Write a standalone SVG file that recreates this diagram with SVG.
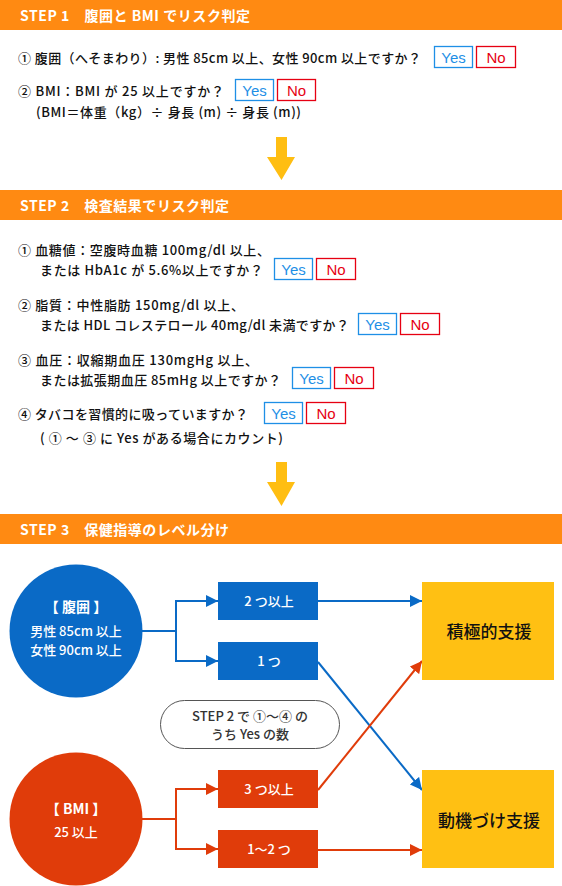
<svg xmlns="http://www.w3.org/2000/svg" width="562" height="886" viewBox="0 0 562 886">
<style>
text{font-family:"Noto Sans CJK JP","Noto Sans",sans-serif;}
.bar{fill:#FF8A12;}
.ht{fill:#fff;font-size:14px;font-weight:bold;}
.bt{fill:#111;font-size:13px;font-weight:500;}
.yb{fill:#fff;stroke:#1E8FE6;stroke-width:1.3;}
.nb{fill:#fff;stroke:#E60012;stroke-width:1.3;}
.yt{fill:#1E8FE6;font-size:15px;text-anchor:middle;font-family:"Liberation Sans",Arial,sans-serif;}
.nt{fill:#E60012;font-size:15px;text-anchor:middle;font-family:"Liberation Sans",Arial,sans-serif;}
.arr{fill:#FFBE12;}
.blue{fill:#0A6AC6;}
.red{fill:#E03C0A;}
.wt{fill:#fff;font-size:13px;font-weight:500;text-anchor:middle;}
.wtb{fill:#fff;font-size:14px;font-weight:bold;text-anchor:middle;}
.sup{fill:#FFC013;}
.st{fill:#111;font-size:17px;font-weight:500;text-anchor:middle;}
.cb{stroke:#0A6AC6;stroke-width:2;fill:none;}
.cr{stroke:#E03C0A;stroke-width:2;fill:none;}
</style>
<defs>
<marker id="ab" viewBox="0 0 12 12" refX="12" refY="6" markerWidth="12" markerHeight="12" markerUnits="userSpaceOnUse" orient="auto"><path d="M0,0 L12,6 L0,12 Z" fill="#0A6AC6"/></marker>
<marker id="ar" viewBox="0 0 12 12" refX="12" refY="6" markerWidth="12" markerHeight="12" markerUnits="userSpaceOnUse" orient="auto"><path d="M0,0 L12,6 L0,12 Z" fill="#E03C0A"/></marker>
</defs>

<g id="step1">
<rect class="bar" x="0" y="0" width="562" height="30"/>
<text class="ht" x="20" y="21" textLength="230" lengthAdjust="spacing">STEP 1　腹囲と BMI でリスク判定</text>
<text class="bt" x="18" y="63" textLength="403" lengthAdjust="spacing">① 腹囲（へそまわり）: 男性 85cm 以上、女性 90cm 以上ですか？</text>
<rect class="yb" x="434.5" y="46.5" width="38" height="21"/><text class="yt" x="453.5" y="63">Yes</text>
<rect class="nb" x="476.5" y="46.5" width="39" height="21"/><text class="nt" x="496" y="63">No</text>
<text class="bt" x="18" y="96" textLength="206" lengthAdjust="spacing">② BMI：BMI が 25 以上ですか？</text>
<rect class="yb" x="235.5" y="79.5" width="38" height="21"/><text class="yt" x="254.5" y="96">Yes</text>
<rect class="nb" x="277.5" y="79.5" width="38" height="21"/><text class="nt" x="296.5" y="96">No</text>
<text class="bt" x="36" y="117" textLength="265" lengthAdjust="spacing">(BMI＝体重（kg）÷ 身長 (m) ÷ 身長 (m))</text>
</g>

<g id="arrow1"><path class="arr" d="M276,137 H287 V157 H295 L281.5,180 L267,157 H276 Z"/></g>

<g id="step2">
<rect class="bar" x="0" y="190" width="562" height="30"/>
<text class="ht" x="20" y="211" textLength="209" lengthAdjust="spacing">STEP 2　検査結果でリスク判定</text>
<text class="bt" x="18" y="255" textLength="252" lengthAdjust="spacing">① 血糖値：空腹時血糖 100mg/dl 以上、</text>
<text class="bt" x="40" y="275" textLength="223" lengthAdjust="spacing">または HbA1c が 5.6%以上ですか？</text>
<rect class="yb" x="274.5" y="258.5" width="38" height="21"/><text class="yt" x="293.5" y="275">Yes</text>
<rect class="nb" x="316.5" y="258.5" width="39" height="21"/><text class="nt" x="336" y="275">No</text>
<text class="bt" x="18" y="310" textLength="226" lengthAdjust="spacing">② 脂質：中性脂肪 150mg/dl 以上、</text>
<text class="bt" x="40" y="330" textLength="309" lengthAdjust="spacing">または HDL コレステロール 40mg/dl 未満ですか？</text>
<rect class="yb" x="358.5" y="313.5" width="38" height="21"/><text class="yt" x="377.5" y="330">Yes</text>
<rect class="nb" x="400.5" y="313.5" width="39" height="21"/><text class="nt" x="420" y="330">No</text>
<text class="bt" x="18" y="365" textLength="240" lengthAdjust="spacing">③ 血圧：収縮期血圧 130mgHg 以上、</text>
<text class="bt" x="40" y="385" textLength="241" lengthAdjust="spacing">または拡張期血圧 85mHg 以上ですか？</text>
<rect class="yb" x="292.5" y="367.5" width="38" height="21"/><text class="yt" x="311.5" y="384">Yes</text>
<rect class="nb" x="334.5" y="367.5" width="39" height="21"/><text class="nt" x="354" y="384">No</text>
<text class="bt" x="18" y="419" textLength="230" lengthAdjust="spacing">④ タバコを習慣的に吸っていますか？</text>
<rect class="yb" x="264.5" y="402.5" width="38" height="21"/><text class="yt" x="283.5" y="419">Yes</text>
<rect class="nb" x="306.5" y="402.5" width="39" height="21"/><text class="nt" x="326" y="419">No</text>
<text class="bt" x="40" y="443" textLength="243" lengthAdjust="spacing">( ① ～ ③ に Yes がある場合にカウント)</text>
</g>

<g id="arrow2"><path class="arr" d="M276,462 H287 V482 H295 L281.5,506 L267,482 H276 Z"/></g>

<g id="step3">
<rect class="bar" x="0" y="514" width="562" height="30"/>
<text class="ht" x="20" y="535" textLength="209" lengthAdjust="spacing">STEP 3　保健指導のレベル分け</text>
</g>

<g id="connectors">
<path class="cb" d="M142,631 H176 V601 H218" marker-end="url(#ab)"/>
<path class="cb" d="M176,631 V661 H218" marker-end="url(#ab)"/>
<path class="cb" d="M318,601 H422" marker-end="url(#ab)"/>
<path class="cb" d="M318,662 L422,790" marker-end="url(#ab)"/>
<path class="cr" d="M142,819 H176 V789 H218" marker-end="url(#ar)"/>
<path class="cr" d="M176,819 V849 H218" marker-end="url(#ar)"/>
<path class="cr" d="M318,790 L422,661" marker-end="url(#ar)"/>
<path class="cr" d="M318,850 H422" marker-end="url(#ar)"/>
</g>

<g id="fukui">
<ellipse class="blue" cx="76" cy="631" rx="66.5" ry="66.5"/>
<text class="wtb" x="76" y="612">【 腹囲 】</text>
<text class="wt" x="76" y="636">男性 85cm 以上</text>
<text class="wt" x="76" y="655">女性 90cm 以上</text>
</g>
<g id="n2ijo"><rect class="blue" x="218" y="582" width="100" height="38"/><text class="wt" x="269" y="606">2 つ以上</text></g>
<g id="n1"><rect class="blue" x="218" y="642" width="100" height="38"/><text class="wt" x="269" y="666">1 つ</text></g>
<g id="note">
<rect x="160.5" y="700.5" width="179" height="48" rx="24" fill="#fff" stroke="#555" stroke-width="1"/>
<text x="250" y="721" font-size="13" font-weight="500" fill="#333" text-anchor="middle">STEP 2 で ①～④ の</text>
<text x="250" y="739" font-size="13" font-weight="500" fill="#333" text-anchor="middle">うち Yes の数</text>
</g>
<g id="bmi">
<ellipse class="red" cx="76" cy="819" rx="66.5" ry="66.5"/>
<text class="wtb" x="76" y="814">【 BMI 】</text>
<text class="wt" x="76" y="837">25 以上</text>
</g>
<g id="n3ijo"><rect class="red" x="218" y="770" width="100" height="38"/><text class="wt" x="269" y="794">3 つ以上</text></g>
<g id="n12"><rect class="red" x="218" y="830" width="100" height="38"/><text class="wt" x="269" y="854">1～2 つ</text></g>
<g id="sekkyoku"><rect class="sup" x="422" y="582" width="132" height="98"/><text class="st" x="489" y="638">積極的支援</text></g>
<g id="doki"><rect class="sup" x="422" y="770" width="132" height="98"/><text class="st" x="489" y="827">動機づけ支援</text></g>
</svg>
